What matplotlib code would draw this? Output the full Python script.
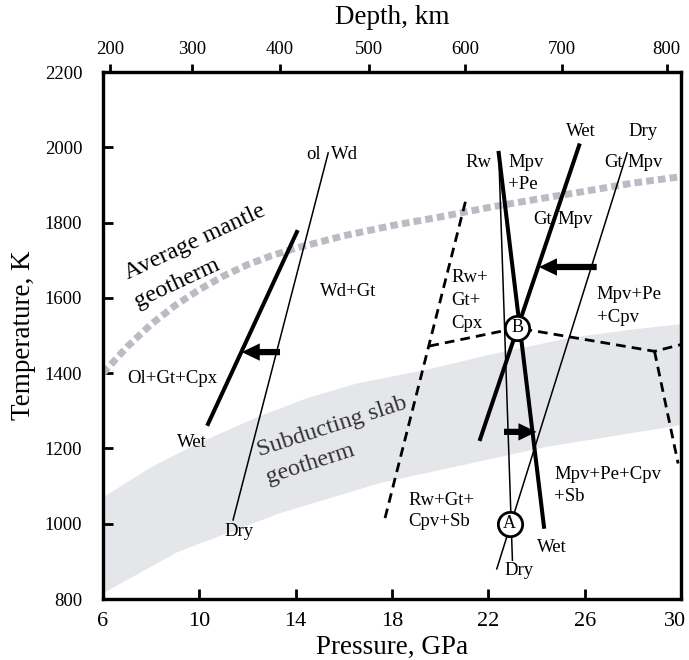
import matplotlib
matplotlib.use("Agg")
import matplotlib.pyplot as plt
from matplotlib.transforms import ScaledTranslation

plt.rcParams['font.family'] = ['Liberation Serif', 'DejaVu Serif']

# ---------------- data ----------------
# subducting slab geotherm band
slab_upper_P = [6.0, 8.0, 10.0, 12.4, 14.5, 16.5, 19.5, 22.0, 25.4, 28.0, 30.0]
slab_upper_T = [1070, 1150, 1215, 1283, 1334, 1372, 1410, 1448, 1494, 1516, 1530]
slab_lower_P = [6.0, 9.1, 13.35, 17.5, 24.4, 30.0]
slab_lower_T = [815, 925, 1028, 1108, 1204, 1262]

# average mantle geotherm
mantle_P = [6, 7, 8, 9, 10, 11, 12, 13, 14, 16, 18, 20, 22, 24, 26, 28, 30]
mantle_T = [1400, 1470, 1530, 1580, 1622, 1658, 1688, 1712, 1732, 1765, 1792, 1815, 1840, 1862, 1883, 1905, 1922]

# phase boundaries (solid)
olwd_dry_P = [11.4, 15.35];  olwd_dry_T = [1010, 1985]
olwd_wet_P = [10.36, 14.05]; olwd_wet_T = [1265, 1775]
rw_dry_P = [22.43, 23.0];    rw_dry_T = [1985, 903]
rw_wet_P = [22.43, 24.31];   rw_wet_T = [1985, 992]
gt_dry_P = [22.35, 27.76];   gt_dry_T = [880, 1985]
gt_wet_P = [21.66, 25.77];   gt_wet_T = [1225, 2005]

# phase boundaries (dashed)
gtout_P = [17.71, 21.05];    gtout_T = [1015, 1856]
cpv_P = [19.55, 23.2, 28.9, 30.0]; cpv_T = [1472, 1520, 1458, 1476]
sb_P = [28.9, 29.88];        sb_T = [1458, 1160]

# arrows (tail -> tip)
arrows = [((13.35, 1456), (11.76, 1456)),
          ((26.5, 1682), (24.1, 1682)),
          ((22.65, 1244), (24.0, 1244))]

# invariant points
points_label = ['A', 'B']
points_P = [22.88, 23.2]
points_T = [1000, 1520]

# axes ticks
press_ticks = [6, 10, 14, 18, 22, 26, 30]
temp_ticks = [800, 1000, 1200, 1400, 1600, 1800, 2000, 2200]
depth_labels = [200, 300, 400, 500, 600, 700, 800]
depth_press = [6.3, 9.7, 13.35, 17.03, 21.05, 25.05, 29.4]

# ---------------- figure ----------------
fig = plt.figure(figsize=(6.89, 6.6), dpi=100)
ax = fig.add_axes([0.1495, 0.0924, 0.8389, 0.7985])
ax.set_xlim(6, 30)
ax.set_ylim(800, 2200)

# slab band
bandP = list(slab_upper_P) + list(slab_lower_P[::-1])
bandT = list(slab_upper_T) + list(slab_lower_T[::-1])
ax.fill(bandP, bandT, color='#e5e6ea', lw=0, zorder=1)

# mantle geotherm
ax.plot(mantle_P, mantle_T, color='#b9bcc3', lw=5, linestyle=(0, (1.1, 0.6)),
        dash_capstyle='butt', zorder=2)

thin = 1.1
thick = 2.9
ax.plot(olwd_dry_P, olwd_dry_T, color='black', lw=thin, zorder=3)
ax.plot(olwd_wet_P, olwd_wet_T, color='black', lw=thick, zorder=3)
ax.plot(rw_dry_P, rw_dry_T, color='black', lw=thin, zorder=3)
ax.plot(rw_wet_P, rw_wet_T, color='black', lw=thick, zorder=3)
ax.plot(gt_dry_P, gt_dry_T, color='black', lw=thin, zorder=3)
ax.plot(gt_wet_P, gt_wet_T, color='black', lw=thick, zorder=3)

dash = (0, (3.5, 2.2))
for P, T in [(gtout_P, gtout_T), (cpv_P, cpv_T), (sb_P, sb_T)]:
    ax.plot(P, T, color='black', lw=2.0, linestyle=dash, dash_capstyle='butt', zorder=3)

for tail, tip in arrows:
    ax.annotate('', xy=tip, xytext=tail,
                arrowprops=dict(arrowstyle='simple,head_length=1.3,head_width=1.25,tail_width=0.45',
                                color='black', lw=0, shrinkA=0, shrinkB=0, mutation_scale=10),
                zorder=4)

ax.plot(points_P, points_T, linestyle='none', marker='o', markersize=17.5,
        mfc='white', mec='black', mew=2.0, zorder=5)
for lab, P, T in zip(points_label, points_P, points_T):
    ax.text(P, T, lab, ha='center', va='center', fontsize=13, zorder=6)

fs = 13.5
def txt(P, T, s, ha='left', **kw):
    ax.text(P, T, s, ha=ha, va='center', fontsize=fs, zorder=6, **kw)

txt(15.05, 1980, 'ol', ha='right')
txt(15.45, 1980, 'Wd', ha='left')
txt(9.68, 1215, 'Wet', ha='center')
txt(11.63, 979, 'Dry', ha='center')
txt(8.88, 1386, 'Ol+Gt+Cpx', ha='center')
txt(16.19, 1618, 'Wd+Gt', ha='center')

txt(22.15, 1960, 'Rw', ha='right')
txt(22.82, 1960, 'Mpv')
txt(22.82, 1902, '+Pe')
txt(25.83, 2043, 'Wet', ha='center')
txt(28.42, 2043, 'Dry', ha='center')
txt(27.58, 1960, 'Gt', ha='right')
txt(27.78, 1960, 'Mpv')
txt(24.62, 1809, 'Gt', ha='right')
txt(24.85, 1809, 'Mpv')
txt(20.45, 1655, 'Rw+')
txt(20.45, 1594, 'Gt+')
txt(20.45, 1533, 'Cpx')
txt(26.5, 1609, 'Mpv+Pe')
txt(26.5, 1548, '+Cpv')
txt(24.73, 1132, 'Mpv+Pe+Cpv')
txt(24.73, 1072, '+Sb')
txt(18.68, 1063, 'Rw+Gt+')
txt(18.68, 1005, 'Cpv+Sb')
txt(24.65, 938, 'Wet', ha='center')
txt(23.26, 877, 'Dry', ha='center')

big = 17.5
rot_kw = dict(ha='center', va='center', rotation_mode='anchor', zorder=6, fontsize=big)
ax.text(9.83, 1749, 'Average mantle', rotation=25, **rot_kw)
ax.text(9.06, 1639, 'geotherm', rotation=25, **rot_kw)
ax.text(15.5, 1258, 'Subducting slab', rotation=18, color='#333333', **rot_kw)
ax.text(14.6, 1160, 'geotherm', rotation=18, color='#333333', **rot_kw)

# axes styling
for s in ax.spines.values():
    s.set_linewidth(2.3)
ax.set_xticks(press_ticks)
ax.set_yticks(temp_ticks)
ax.tick_params(axis='x', direction='in', length=7, width=2, labelsize=16, pad=9,
               top=False)
ax.tick_params(axis='y', direction='in', length=7, width=2, labelsize=13.5, pad=15,
               right=False)
ax.set_xlabel('Pressure, GPa', fontsize=19.5, labelpad=3)
ax.set_ylabel('Temperature, K', fontsize=19.5, labelpad=6)

fig.canvas.draw()
lbls = ax.get_xticklabels()
lbls[-1].set_transform(lbls[-1].get_transform() + ScaledTranslation(-4 / 72, 0, fig.dpi_scale_trans))

ax2 = ax.twiny()
ax2.set_xlim(ax.get_xlim())
ax2.set_xticks(depth_press)
ax2.set_xticklabels([str(d) for d in depth_labels])
ax2.tick_params(axis='x', direction='out', length=6, width=2, labelsize=13.5, pad=4)
for s in ax2.spines.values():
    s.set_linewidth(2.3)
ax2.set_xlabel('Depth, km', fontsize=19.5, labelpad=12)

fig.savefig('out.png', dpi=100)
